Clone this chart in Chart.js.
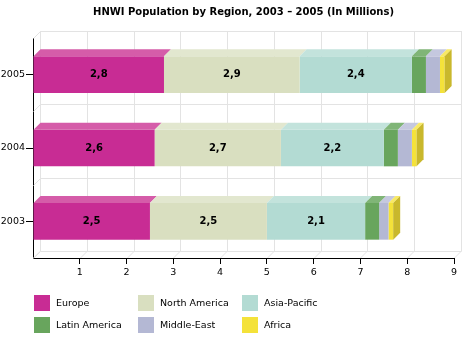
<!DOCTYPE html>
<html>
<head>
<meta charset="utf-8">
<script src="https://cdn.jsdelivr.net/npm/chart.js@4"></script>
<style>
  body { margin: 0; background: #fff; }
  #wrap { position: relative; width: 463px; height: 350px; }
  #legend { position: absolute; left: 34px; top: 295px; width: 330px;
            font: 9.5px "DejaVu Sans", sans-serif; color: #000; }
  #legend .item { position: absolute; height: 16px; line-height: 16px; white-space: nowrap; }
  #legend .box { position: absolute; left: 0; top: 0; width: 16px; height: 16px; }
  #legend .txt { position: absolute; left: 22px; top: 0; }
</style>
</head>
<body>
<div id="wrap">
  <canvas id="graphic" width="463" height="350"></canvas>
  <div id="legend"></div>
</div>
<script>
// data
const years = ['2005', '2004', '2003'];
const regions = ['Europe', 'North America', 'Asia-Pacific', 'Latin America', 'Middle-East', 'Africa'];
const europe = [2.8, 2.6, 2.5];
const northAmerica = [2.9, 2.7, 2.5];
const asiaPacific = [2.4, 2.2, 2.1];
const latinAmerica = [0.3, 0.3, 0.3];
const middleEast = [0.3, 0.3, 0.2];
const africa = [0.1, 0.1, 0.1];
const xTicks = [1, 2, 3, 4, 5, 6, 7, 8, 9];

// styles
const frontColors = ['#c82c94', '#d9dfc0', '#b3dbd3', '#68a55d', '#b4b8d4', '#f4e23a'];
const topColors = ['#d55ca9', '#e2e7cf', '#c3e3dc', '#80b577', '#c5c8df', '#f8e965'];
const sideColor = '#c9b82c';
const DEPTH = 7;
const FONT = '"DejaVu Sans", sans-serif';

const values = [europe, northAmerica, asiaPacific, latinAmerica, middleEast, africa];

// back wall, floor and left wall of the 3D box
const backWall = {
  id: 'backWall',
  beforeDatasetsDraw(chart) {
    const { ctx, chartArea: a, scales: { x, y } } = chart;
    const d = DEPTH;
    ctx.save();
    ctx.strokeStyle = '#e3e3e3';
    ctx.lineWidth = 1;
    ctx.beginPath();
    [0].concat(xTicks).forEach(v => {
      const px = Math.round(x.getPixelForValue(v)) + 0.5;
      ctx.moveTo(px + d, a.top - d);
      ctx.lineTo(px + d, a.bottom - d);
      ctx.lineTo(px, a.bottom);
    });
    for (let i = -1; i < years.length; i++) {
      const py = Math.round(y.getPixelForValue(i + 0.5)) + 0.5;
      const left = Math.round(a.left) + 0.5;
      ctx.moveTo(left, py);
      ctx.lineTo(left + d, py - d);
      ctx.lineTo(Math.round(a.right) + 0.5 + d, py - d);
    }
    ctx.stroke();
    ctx.restore();
  }
};

// top and side faces of the bars, plus the value labels
const bars3d = {
  id: 'bars3d',
  afterDatasetsDraw(chart) {
    const { ctx } = chart;
    const d = DEPTH;
    const last = chart.data.datasets.length - 1;
    ctx.save();
    chart.data.datasets.forEach((ds, di) => {
      chart.getDatasetMeta(di).data.forEach(bar => {
        const { x, y, base, height } = bar.getProps(['x', 'y', 'base', 'height'], true);
        const top = y - height / 2, bottom = y + height / 2;
        ctx.fillStyle = topColors[di];
        ctx.beginPath();
        ctx.moveTo(base, top);
        ctx.lineTo(base + d, top - d);
        ctx.lineTo(x + d, top - d);
        ctx.lineTo(x, top);
        ctx.closePath();
        ctx.fill();
        if (di === last) {
          ctx.fillStyle = sideColor;
          ctx.beginPath();
          ctx.moveTo(x, top);
          ctx.lineTo(x + d, top - d);
          ctx.lineTo(x + d, bottom - d);
          ctx.lineTo(x, bottom);
          ctx.closePath();
          ctx.fill();
        }
      });
    });
    ctx.fillStyle = '#000';
    ctx.font = 'bold 10px ' + FONT;
    ctx.textAlign = 'center';
    ctx.textBaseline = 'middle';
    [0, 1, 2].forEach(di => {
      chart.getDatasetMeta(di).data.forEach((bar, i) => {
        const { x, y, base } = bar.getProps(['x', 'y', 'base'], true);
        const label = values[di][i].toFixed(1).replace('.', ',');
        ctx.fillText(label, (x + base) / 2, y);
      });
    });
    ctx.restore();
  }
};

const data = {
  labels: years,
  datasets: regions.map((name, i) => ({
    label: name,
    data: values[i],
    backgroundColor: frontColors[i],
    borderWidth: 0,
    barPercentage: 0.5,
    categoryPercentage: 1
  }))
};

const config = {
  type: 'bar',
  data,
  plugins: [backWall, bars3d],
  options: {
    indexAxis: 'y',
    responsive: false,
    animation: false,
    layout: { padding: { left: 0, right: 9, top: 0, bottom: 67 } },
    plugins: {
      legend: { display: false },
      tooltip: { enabled: false },
      title: {
        display: true,
        text: 'HNWI Population by Region, 2003 \u2013 2005 (In Millions)',
        fullSize: false,
        color: '#000',
        font: { family: FONT, size: 10, weight: 'bold' },
        padding: { top: 6, bottom: 20 }
      }
    },
    scales: {
      x: {
        stacked: true,
        min: 0,
        max: 9,
        afterFit: s => { s.height = 25; },
        afterBuildTicks: s => { s.ticks = [0].concat(xTicks).map(v => ({ value: v })); },
        ticks: {
          color: '#000',
          padding: 3,
          font: { family: FONT, size: 9.5 },
          callback: v => (v === 0 ? '' : v)
        },
        grid: {
          drawOnChartArea: false,
          tickLength: 6,
          tickColor: c => (c.tick && c.tick.value === 0 ? 'rgba(0,0,0,0)' : '#000')
        },
        border: { color: '#000', width: 1 }
      },
      y: {
        stacked: true,
        afterFit: s => { s.width = 33; },
        ticks: {
          color: '#000',
          padding: 1,
          font: { family: FONT, size: 9.5 }
        },
        grid: {
          offset: false,
          drawOnChartArea: false,
          tickLength: 7,
          tickColor: '#000'
        },
        border: { color: '#000', width: 1 }
      }
    }
  }
};

const myGraphic = new Chart(document.getElementById('graphic'), config);

// legend, three columns by two rows
const legendBox = document.getElementById('legend');
regions.forEach((name, i) => {
  const item = document.createElement('div');
  item.className = 'item';
  item.style.left = (i % 3) * 104 + 'px';
  item.style.top = Math.floor(i / 3) * 22 + 'px';
  item.innerHTML = '<span class="box" style="background:' + frontColors[i] + '"></span><span class="txt">' + name + '</span>';
  legendBox.appendChild(item);
});
</script>
</body>
</html>
